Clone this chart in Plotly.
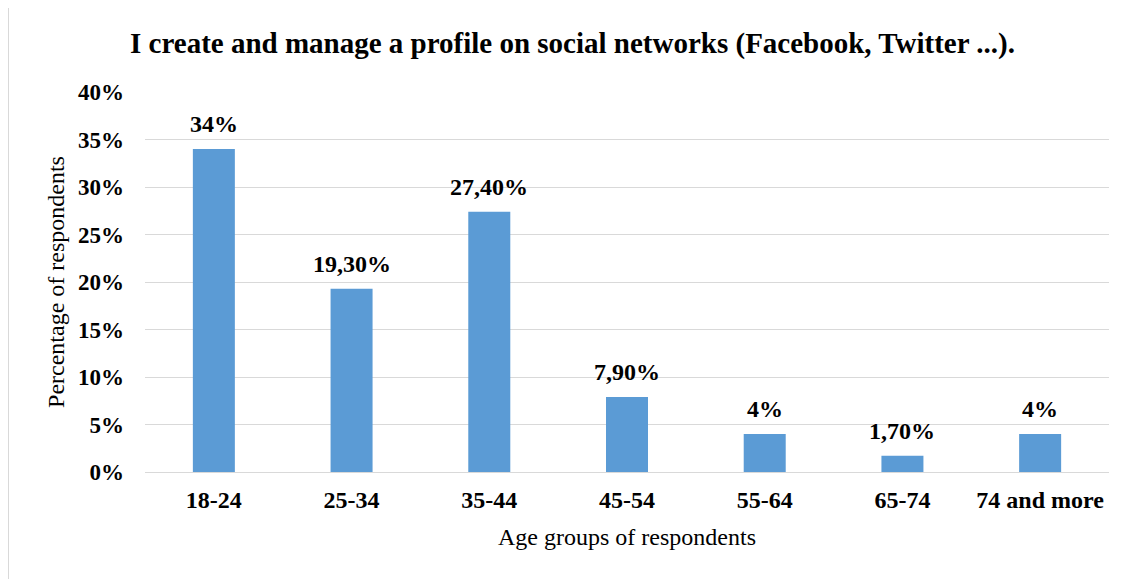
import plotly.graph_objects as go

age_groups = ["18-24", "25-34", "35-44", "45-54", "55-64", "65-74", "74 and more"]
shares = [34, 19.3, 27.4, 7.9, 4, 1.7, 4]
labels = ["34%", "19,30%", "27,40%", "7,90%", "4%", "1,70%", "4%"]
y_ticks = [0, 5, 10, 15, 20, 25, 30, 35, 40]
y_tick_text = ["0%", "5%", "10%", "15%", "20%", "25%", "30%", "35%", "40%"]

serif = "Liberation Serif, Times New Roman, serif"

fig = go.Figure(
    go.Bar(
        x=age_groups,
        y=shares,
        marker=dict(color="#5B9BD5", line=dict(width=0)),
        hoverinfo="x+y",
    )
)

# value labels above the bars
for cat, val, lab in zip(age_groups, shares, labels):
    fig.add_annotation(
        x=cat, y=val, text="<b>" + lab + "</b>",
        showarrow=False, yanchor="bottom", yshift=10,
        font=dict(family=serif, size=24, color="black"),
    )

# page body has an 8px margin, margins below compensate for it
fig.update_layout(
    width=1129,
    height=579,
    margin=dict(l=137, r=28, t=84, b=115),
    paper_bgcolor="white",
    plot_bgcolor="white",
    bargap=0.695,
    showlegend=False,
    font=dict(family=serif, color="black"),
    title=dict(
        text="<b>I create and manage a profile on social networks (Facebook, Twitter ...).</b>",
        font=dict(family=serif, size=29, color="black"),
        x=0.5,
        xanchor="center",
        y=0.94,
        yanchor="middle",
    ),
)

fig.update_yaxes(
    range=[0, 40],
    tickvals=y_ticks,
    ticktext=["<b>" + t + "</b>" for t in y_tick_text],
    tickfont=dict(family=serif, size=23, color="black"),
    showgrid=True,
    gridcolor="#d9d9d9",
    gridwidth=1,
    zeroline=False,
    showline=False,
    ticks="",
    ticklabelstandoff=20,
    title=dict(text="Percentage of respondents", font=dict(family=serif, size=24, color="black"), standoff=6),
)

fig.update_xaxes(
    ticktext=["<b>" + a + "</b>" for a in age_groups],
    tickvals=age_groups,
    tickfont=dict(family=serif, size=24, color="black"),
    showline=True,
    linecolor="#d9d9d9",
    linewidth=1,
    ticks="",
    ticklabelstandoff=6,
    title=dict(text="Age groups of respondents", font=dict(family=serif, size=24, color="black"), standoff=16),
)

# chart frame like the source image
fig.add_shape(
    type="rect", xref="paper", yref="paper",
    x0=-137 / 964, x1=1.2, y0=-2.0, y1=1 + 86 / 380,
    line=dict(color="#d9d9d9", width=2), fillcolor="rgba(0,0,0,0)", layer="below",
)

fig.write_html("out.html")
